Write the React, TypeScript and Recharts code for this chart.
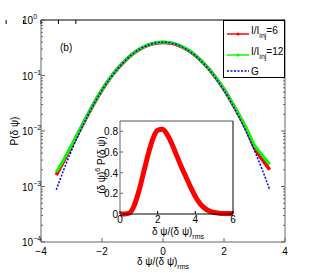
import React from "react";
import { ComposedChart, LineChart, Line, XAxis, YAxis } from "recharts";

const FONT = "'Liberation Sans', Arial, sans-serif";
const AXIS = "#666";

// main panel: P(dpsi) on log scale
const xs = [
  -3.5, -3.25, -3, -2.75, -2.5, -2.25, -2, -1.75, -1.5, -1.25, -1, -0.75, -0.5, -0.25, 0,
  0.25, 0.5, 0.75, 1, 1.25, 1.5, 1.75, 2, 2.25, 2.5, 2.75, 3, 3.25, 3.5,
];
const red6 = [
  0.0016, 0.0029, 0.0053, 0.0098, 0.018, 0.0322, 0.0548, 0.0872, 0.1305, 0.1832, 0.242, 0.3, 0.349,
  0.382, 0.393, 0.383, 0.35, 0.301, 0.2425, 0.184, 0.1315, 0.0885, 0.056, 0.0333, 0.0188, 0.0103,
  0.005, 0.0031, 0.002,
];
const green12 = [
  0.0018, 0.0031, 0.0055, 0.01, 0.0182, 0.0325, 0.055, 0.0875, 0.131, 0.184, 0.244, 0.304, 0.355,
  0.39, 0.402, 0.391, 0.356, 0.305, 0.245, 0.185, 0.132, 0.089, 0.0565, 0.0337, 0.0192, 0.0107,
  0.0056, 0.0037, 0.0025,
];
const gauss = [
  0.00087, 0.00203, 0.00443, 0.00909, 0.0175, 0.0317, 0.054, 0.0863, 0.1295, 0.1826, 0.242, 0.3011,
  0.3521, 0.3867, 0.3989, 0.3867, 0.3521, 0.3011, 0.242, 0.1826, 0.1295, 0.0863, 0.054, 0.0317,
  0.0175, 0.00909, 0.00443, 0.00203, 0.00087,
];

const xTicks = [-4, -2, 0, 2, 4];
const decades = [0.0001, 0.001, 0.01, 0.1, 1];
const decadeLabels = ["\u22124", "\u22123", "\u22122", "\u22121", "0"];
const minorTicks = [
  0.0002, 0.0003, 0.0004, 0.0005, 0.0006, 0.0007, 0.0008, 0.0009,
  0.002, 0.003, 0.004, 0.005, 0.006, 0.007, 0.008, 0.009,
  0.02, 0.03, 0.04, 0.05, 0.06, 0.07, 0.08, 0.09,
  0.2, 0.3, 0.4, 0.5, 0.6, 0.7, 0.8, 0.9,
];
const yTicks = [...decades, ...minorTicks];

// inset: (dpsi)^6 P(dpsi)
const insetX = [
  0, 0.25, 0.5, 0.75, 1, 1.25, 1.5, 1.75, 2, 2.25, 2.5, 2.75, 3, 3.25, 3.5, 3.75, 4, 4.25, 4.5,
  4.75, 5, 5.25, 5.5, 5.75, 6,
];
const insetY = [
  0, 0.001, 0.01, 0.08, 0.22, 0.4, 0.58, 0.73, 0.81, 0.82, 0.77, 0.68, 0.57, 0.46, 0.36, 0.26,
  0.17, 0.1, 0.055, 0.028, 0.014, 0.008, 0.005, 0.004, 0.004,
];
const insetXTicks = [0, 2, 4, 6];
const insetYTicks = [0, 0.2, 0.4, 0.6, 0.8];

const mainData = xs.map((x, i) => ({ x, red: red6[i], green: green12[i], g: gauss[i] }));
const insetData = insetX.map((x, i) => ({ x, y: insetY[i] }));

const BottomTick = ({ x, y, payload }: any) => (
  <g>
    <line x1={x} x2={x} y1={y} y2={y - 4} stroke={AXIS} />
    <text x={x} y={y + 13} textAnchor="middle" fontSize={10} fontFamily={FONT} fill="#000">
      {payload.value < 0 ? `\u2212${-payload.value}` : payload.value}
    </text>
  </g>
);

const TopTick = ({ x, y }: any) => <line x1={x} x2={x} y1={y} y2={y + 4} stroke="#000" />;

const LeftTick = ({ x, y, payload }: any) => {
  const k = decades.indexOf(payload.value);
  return (
    <g>
      <line x1={x} x2={x + (k >= 0 ? 4 : 2)} y1={y} y2={y} stroke={AXIS} />
      {k >= 0 && (
        <text x={x - 19} y={y + 4} fontSize={10} fontFamily={FONT} fill="#000">
          10
          <tspan dy={-5} fontSize={7}>
            {decadeLabels[k]}
          </tspan>
        </text>
      )}
    </g>
  );
};

const RightTick = ({ x, y, payload }: any) => {
  const major = decades.indexOf(payload.value) >= 0;
  return <line x1={x} x2={x - (major ? 4 : 2)} y1={y} y2={y} stroke={AXIS} />;
};

const InsetXTick = ({ x, y, payload }: any) => (
  <g>
    <line x1={x} x2={x} y1={y} y2={y - 3} stroke="#000" />
    <text x={x} y={y + 9} textAnchor="middle" fontSize={10} fontFamily={FONT} fill="#000">
      {payload.value}
    </text>
  </g>
);

const InsetYTick = ({ x, y, payload }: any) => (
  <g>
    <line x1={x} x2={x + 3} y1={y} y2={y} stroke={AXIS} />
    <text x={x - 2} y={y + 4} textAnchor="end" fontSize={10} fontFamily={FONT} fill="#000">
      {payload.value}
    </text>
  </g>
);

const noTicks = { tickLine: false, tickSize: 0, tickMargin: 0 };

export default function App() {
  return (
    <div style={{ position: "absolute", left: 0, top: 0, width: 316, height: 273, background: "#fff" }}>
      <div style={{ position: "absolute", left: 0, top: 0 }}>
        <ComposedChart width={316} height={273} data={mainData} margin={{ top: 0, right: 0, bottom: 0, left: 0 }}>
          <XAxis xAxisId="b" dataKey="x" type="number" domain={[-4, 4]} ticks={xTicks} height={31}
            stroke={AXIS} tick={<BottomTick />} interval={0} {...noTicks} />
          <XAxis xAxisId="t" orientation="top" type="number" domain={[-4, 4]} ticks={xTicks} height={20}
            stroke="#000" tick={<TopTick />} interval={0} {...noTicks} />
          <YAxis yAxisId="l" scale="log" type="number" domain={[0.0001, 1]} allowDataOverflow ticks={yTicks}
            width={41} stroke={AXIS} tick={<LeftTick />} interval={0} {...noTicks} />
          <YAxis yAxisId="r" orientation="right" scale="log" type="number" domain={[0.0001, 1]} allowDataOverflow
            ticks={yTicks} width={31} stroke={AXIS} tick={<RightTick />} interval={0} {...noTicks} />
          <Line xAxisId="b" yAxisId="l" type="monotone" dataKey="red" stroke="#ff0000" strokeWidth={3.5}
            dot={false} isAnimationActive={false} />
          <Line xAxisId="b" yAxisId="l" type="monotone" dataKey="green" stroke="#00ff00" strokeWidth={3}
            dot={false} isAnimationActive={false} />
          <Line xAxisId="b" yAxisId="l" type="monotone" dataKey="g" stroke="#0000ff" strokeWidth={1.5}
            strokeDasharray="2 1.5" dot={false} isAnimationActive={false} />
        </ComposedChart>
      </div>

      {/* inset */}
      <div style={{ position: "absolute", left: 95, top: 115 }}>
        <LineChart width={145} height={125} data={insetData} margin={{ top: 0, right: 0, bottom: 0, left: 0 }}>
          <XAxis xAxisId="b" dataKey="x" type="number" domain={[0, 6]} ticks={insetXTicks} height={26}
            stroke="#000" tick={<InsetXTick />} interval={0} {...noTicks} />
          <XAxis xAxisId="t" orientation="top" type="number" domain={[0, 6]} ticks={insetXTicks} height={6}
            stroke="#555" tick={false} {...noTicks} />
          <YAxis yAxisId="l" type="number" domain={[0, 0.9]} ticks={insetYTicks} width={25}
            stroke={AXIS} tick={<InsetYTick />} interval={0} {...noTicks} />
          <YAxis yAxisId="r" orientation="right" type="number" domain={[0, 0.9]} width={7}
            stroke="#000" tick={false} {...noTicks} />
          <Line xAxisId="b" yAxisId="l" type="monotone" dataKey="y" stroke="#ff0000" strokeWidth={5}
            dot={false} isAnimationActive={false} />
        </LineChart>
      </div>

      {/* labels and legend */}
      <svg width={316} height={273} style={{ position: "absolute", left: 0, top: 0, pointerEvents: "none" }}
        fontFamily={FONT} fontSize={10}>
        <text x={60} y={51}>(b)</text>
        <text transform="translate(18,131) rotate(-90)" textAnchor="middle">P(δ ψ)</text>
        <text x={163} y={265} textAnchor="middle">
          δ ψ/(δ ψ)<tspan dy={4} fontSize={7}>rms</tspan>
        </text>
        <text transform="translate(105,165) rotate(-90)" textAnchor="middle">
          (δ ψ)<tspan dy={-5} fontSize={7}>6</tspan>
          <tspan dy={5}> P(δ ψ)</tspan>
        </text>
        <text x={178} y={235} textAnchor="middle">
          δ ψ/(δ ψ)<tspan dy={4} fontSize={7}>rms</tspan>
        </text>

        <rect x={223.5} y={20.5} width={61} height={57} fill="#fff" stroke="#000" />
        <line x1={227} x2={249} y1={34} y2={34} stroke="#ff0000" strokeWidth={1.5} />
        <circle cx={238} cy={34} r={1.5} fill="#ff0000" />
        <text x={251} y={34}>
          I/I<tspan dy={4} fontSize={7}>inj</tspan>
          <tspan dy={-4}>=6</tspan>
        </text>
        <line x1={227} x2={249} y1={55} y2={55} stroke="#00ff00" strokeWidth={1.5} />
        <circle cx={238} cy={55} r={1.5} fill="#00ff00" />
        <text x={251} y={55}>
          I/I<tspan dy={4} fontSize={7}>inj</tspan>
          <tspan dy={-4}>=12</tspan>
        </text>
        <line x1={227} x2={249} y1={71} y2={71} stroke="#0000ff" strokeWidth={1.5} strokeDasharray="2 1.5" />
        <text x={251} y={75}>G</text>
      </svg>
    </div>
  );
}
